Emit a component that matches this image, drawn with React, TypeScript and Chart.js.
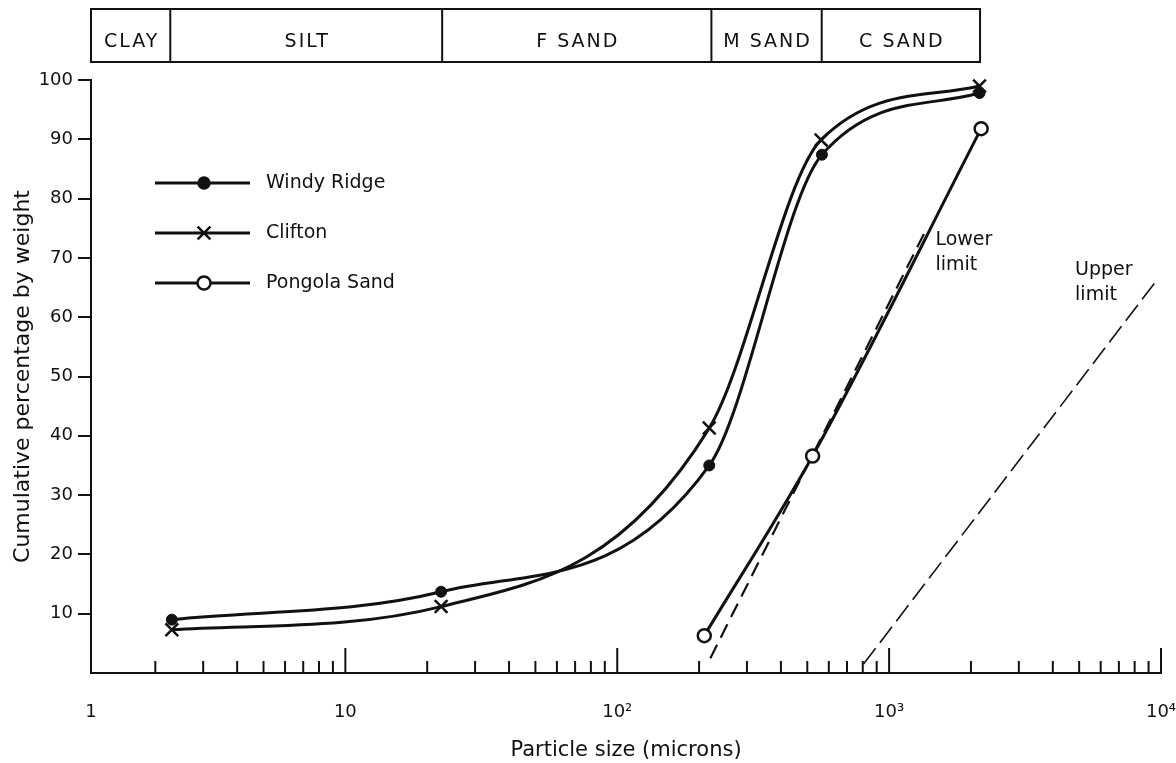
import React, { useEffect, useRef } from 'react';
import { Chart, registerables } from 'chart.js';

Chart.register(...registerables);

// ---- data ----
const seriesNames = ['Windy Ridge', 'Clifton', 'Pongola Sand'];
const windyRidgeSizes = [2.3, 22.5, 218, 566, 2150];
const windyRidgeValues = [9, 13.7, 35, 87.4, 97.8];
const cliftonSizes = [2.3, 22.5, 218, 562, 2150];
const cliftonValues = [7.3, 11.2, 41.3, 89.9, 99];
const pongolaSizes = [209, 523, 2180];
const pongolaValues = [6.3, 36.6, 91.8];
const lowerLimitSizes = [220, 1365];
const lowerLimitValues = [2.5, 74.7];
const upperLimitSizes = [805, 9780];
const upperLimitValues = [1.5, 66.6];

const xMin = 1.16;
const xMax = 10000;
const xTickValues = [xMin, 10, 100, 1000, 10000];
const xTickLabels = ['1', '10', '10²', '10³', '10⁴'];
const xMajorMarks = [10, 100, 1000, 10000];
const xMinorMultipliers = [2, 3, 4, 5, 6, 7, 8, 9];
const xDecades = [1, 10, 100, 1000];
const yTickValues = [10, 20, 30, 40, 50, 60, 70, 80, 90, 100];

const bandLabels = ['CLAY', 'SILT', 'F SAND', 'M SAND', 'C SAND'];
const bandEdges = [1.16, 2.27, 22.7, 222, 565, 2160];

const limitLabels = [['Lower', 'limit'], ['Upper', 'limit']];
const limitLabelSizes = [1480, 4830];
const limitLabelValues = [73, 68];

const xTitle = 'Particle size (microns)';
const yTitle = 'Cumulative percentage by weight';

const FONT = "'DejaVu Sans', sans-serif";
const INK = '#111';

const toXY = (xs: number[], ys: number[]) => xs.map((x, i) => ({ x, y: ys[i] }));

function drawMarker(ctx: CanvasRenderingContext2D, style: string, x: number, y: number, r: number, fill: string) {
  ctx.save();
  ctx.strokeStyle = INK;
  ctx.lineWidth = 2.5;
  if (style === 'crossRot') {
    const o = r * Math.cos(Math.PI / 4);
    ctx.beginPath();
    ctx.moveTo(x - o, y - o);
    ctx.lineTo(x + o, y + o);
    ctx.moveTo(x + o, y - o);
    ctx.lineTo(x - o, y + o);
    ctx.stroke();
  } else {
    ctx.beginPath();
    ctx.arc(x, y, r, 0, Math.PI * 2);
    ctx.fillStyle = fill;
    ctx.fill();
    ctx.stroke();
  }
  ctx.restore();
}

const decorPlugin = {
  id: 'decor',
  afterDraw(chart: any) {
    const { ctx, chartArea } = chart;
    const xs = chart.scales.x;
    const ys = chart.scales.y;
    ctx.save();
    // inward x tick marks
    ctx.strokeStyle = INK;
    ctx.lineWidth = 2;
    const base = chartArea.bottom;
    xMajorMarks.forEach((v) => {
      const px = xs.getPixelForValue(v);
      ctx.beginPath();
      ctx.moveTo(px, base);
      ctx.lineTo(px, base - 25);
      ctx.stroke();
    });
    xDecades.forEach((d) => {
      xMinorMultipliers.forEach((m) => {
        const v = d * m;
        if (v <= xMin) return;
        const px = xs.getPixelForValue(v);
        ctx.beginPath();
        ctx.moveTo(px, base);
        ctx.lineTo(px, base - 12);
        ctx.stroke();
      });
    });

    // size class band at top
    const bTop = 9;
    const bBot = 62;
    ctx.lineWidth = 2;
    const bx0 = xs.getPixelForValue(bandEdges[0]);
    const bx1 = xs.getPixelForValue(bandEdges[bandEdges.length - 1]);
    ctx.strokeRect(bx0, bTop, bx1 - bx0, bBot - bTop);
    ctx.font = `19px ${FONT}`;
    (ctx as any).letterSpacing = '2px';
    ctx.fillStyle = INK;
    ctx.textAlign = 'center';
    ctx.textBaseline = 'middle';
    bandLabels.forEach((lab, i) => {
      const a = xs.getPixelForValue(bandEdges[i]);
      const b = xs.getPixelForValue(bandEdges[i + 1]);
      if (i > 0) {
        ctx.beginPath();
        ctx.moveTo(a, bTop);
        ctx.lineTo(a, bBot);
        ctx.stroke();
      }
      ctx.fillText(lab, (a + b) / 2 + 1, 42);
    });
    (ctx as any).letterSpacing = '0px';

    // limit annotations
    ctx.textAlign = 'left';
    ctx.font = `19px ${FONT}`;
    limitLabels.forEach((lines, i) => {
      const px = xs.getPixelForValue(limitLabelSizes[i]);
      const py = ys.getPixelForValue(limitLabelValues[i]);
      lines.forEach((t, j) => ctx.fillText(t, px, py + j * 25));
    });

    // legend
    const rows = [183, 233, 283];
    const styles = chart.data.datasets.slice(0, 3);
    styles.forEach((ds: any, i: number) => {
      const y = rows[i];
      ctx.strokeStyle = INK;
      ctx.lineWidth = ds.borderWidth;
      ctx.beginPath();
      ctx.moveTo(155, y);
      ctx.lineTo(250, y);
      ctx.stroke();
      drawMarker(ctx, ds.pointStyle, 204, y, ds.pointRadius, ds.pointBackgroundColor);
      ctx.fillStyle = INK;
      ctx.font = `19px ${FONT}`;
      ctx.textBaseline = 'middle';
      ctx.fillText(seriesNames[i], 266, y);
    });
    ctx.restore();
  },
};

export default function App() {
  const canvasRef = useRef<HTMLCanvasElement | null>(null);

  useEffect(() => {
    const canvas = canvasRef.current;
    if (!canvas) return;
    Chart.defaults.font.family = FONT;
    Chart.defaults.color = INK;

    const chart = new Chart(canvas, {
      type: 'line',
      data: {
        datasets: [
          {
            label: seriesNames[0],
            data: toXY(windyRidgeSizes, windyRidgeValues),
            borderColor: INK,
            borderWidth: 3,
            pointStyle: 'circle',
            pointRadius: 5.5,
            pointBackgroundColor: INK,
            pointBorderColor: INK,
            pointBorderWidth: 1,
            cubicInterpolationMode: 'monotone',
            clip: false,
          },
          {
            label: seriesNames[1],
            data: toXY(cliftonSizes, cliftonValues),
            borderColor: INK,
            borderWidth: 3,
            pointStyle: 'crossRot',
            pointRadius: 9,
            pointBackgroundColor: INK,
            pointBorderColor: INK,
            pointBorderWidth: 2.5,
            cubicInterpolationMode: 'monotone',
            clip: false,
          },
          {
            label: seriesNames[2],
            data: toXY(pongolaSizes, pongolaValues),
            borderColor: INK,
            borderWidth: 3,
            pointStyle: 'circle',
            pointRadius: 6.5,
            pointBackgroundColor: '#fff',
            pointBorderColor: INK,
            pointBorderWidth: 2.5,
            cubicInterpolationMode: 'monotone',
            clip: false,
          },
          {
            label: 'Lower limit',
            data: toXY(lowerLimitSizes, lowerLimitValues),
            borderColor: INK,
            borderWidth: 2.2,
            borderDash: [15, 8],
            pointRadius: 0,
            clip: false,
          },
          {
            label: 'Upper limit',
            data: toXY(upperLimitSizes, upperLimitValues),
            borderColor: INK,
            borderWidth: 1.6,
            borderDash: [20, 7],
            pointRadius: 0,
            clip: false,
          },
        ],
      },
      options: {
        animation: false,
        responsive: false,
        events: [],
        layout: { padding: { top: 80, right: 15, left: 0, bottom: 0 } },
        plugins: {
          legend: { display: false },
          tooltip: { enabled: false },
        },
        scales: {
          x: {
            type: 'logarithmic',
            min: xMin,
            max: xMax,
            afterFit: (s: any) => {
              s.height = 90;
              s.paddingLeft = 0;
              s.paddingRight = 0;
            },
            afterBuildTicks: (s: any) => {
              s.ticks = xTickValues.map((v) => ({ value: v }));
            },
            ticks: {
              autoSkip: false,
              maxRotation: 0,
              padding: 21,
              font: { size: 18, family: FONT },
              color: INK,
              callback: (_v: any, i: number) => xTickLabels[i],
            },
            grid: { display: false },
            border: { display: true, color: INK, width: 2 },
            title: {
              display: true,
              text: xTitle,
              color: INK,
              font: { size: 21, family: FONT },
              padding: { top: 0, bottom: 0 },
            },
          },
          y: {
            type: 'linear',
            min: 0,
            max: 100,
            afterFit: (s: any) => {
              s.width = 91;
              s.paddingTop = 0;
              s.paddingBottom = 0;
            },
            afterBuildTicks: (s: any) => {
              s.ticks = yTickValues.map((v) => ({ value: v }));
            },
            ticks: {
              padding: 5,
              font: { size: 18, family: FONT },
              color: INK,
            },
            grid: {
              display: true,
              drawOnChartArea: false,
              drawTicks: true,
              tickLength: 13,
              color: INK,
              lineWidth: 2,
            },
            border: { display: true, color: INK, width: 2 },
            title: {
              display: true,
              text: yTitle,
              color: INK,
              font: { size: 22, family: FONT },
              padding: { top: 10, bottom: 0 },
            },
          },
        },
      },
      plugins: [decorPlugin],
    } as any);

    return () => chart.destroy();
  }, []);

  return (
    <div style={{ position: 'fixed', left: 0, top: 0, width: 1176, height: 763, background: '#fff' }}>
      <canvas ref={canvasRef} width={1176} height={763} style={{ width: 1176, height: 763, display: 'block' }} />
    </div>
  );
}
